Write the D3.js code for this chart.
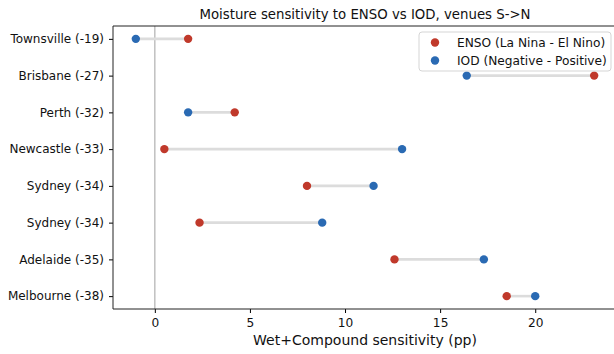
<!DOCTYPE html>
<html>
<head>
<meta charset="utf-8">
<script src="https://cdn.jsdelivr.net/npm/d3@7"></script>
<style>
  body { margin: 0; background: #fff; }
  svg { font-family: "DejaVu Sans", sans-serif; display: block; }
  svg text { font-family: "DejaVu Sans", sans-serif; }
</style>
</head>
<body>
<script>
// venues ordered S->N in the source, shown top to bottom as in the picture
const venues = ['Townsville (-19)', 'Brisbane (-27)', 'Perth (-32)', 'Newcastle (-33)',
                'Sydney (-34)', 'Sydney (-34)', 'Adelaide (-35)', 'Melbourne (-38)'];
const ensoVals = [1.75, 23.1, 4.2, 0.5, 8.0, 2.35, 12.6, 18.5];
const iodVals = [-1.0, 16.4, 1.75, 13.0, 11.5, 8.8, 17.3, 20.0];
const xTicks = [0, 5, 10, 15, 20];
const legendLabels = ['ENSO (La Nina - El Nino)', 'IOD (Negative - Positive)'];

const w = 614, h = 354;
const m = {left: 113, right: -3, top: 26, bottom: 45};
const red = '#c0392b', blue = '#2a6ab3';

const svg = d3.select('body').append('svg').attr('width', w).attr('height', h);

const x = d3.scaleLinear().domain([-2.2, 24.3]).range([m.left, w - m.right]);
const y = d3.scaleLinear().domain([-0.35, 7.35]).range([m.top, h - m.bottom]);

const rows = venues.map((v, i) => ({name: v, i: i, enso: ensoVals[i], iod: iodVals[i]}));

// zero line
svg.append('line')
  .attr('x1', x(0)).attr('x2', x(0))
  .attr('y1', m.top).attr('y2', h - m.bottom)
  .attr('stroke', '#b0b0b0').attr('stroke-width', 1.2);

// connectors
svg.selectAll('line.conn').data(rows).enter().append('line')
  .attr('class', 'conn')
  .attr('x1', d => x(d.enso)).attr('x2', d => x(d.iod))
  .attr('y1', d => y(d.i)).attr('y2', d => y(d.i))
  .attr('stroke', '#dcdcdc').attr('stroke-width', 2.6);

svg.selectAll('circle.enso').data(rows).enter().append('circle')
  .attr('class', 'enso')
  .attr('cx', d => x(d.enso)).attr('cy', d => y(d.i)).attr('r', 4.2)
  .attr('fill', red);

svg.selectAll('circle.iod').data(rows).enter().append('circle')
  .attr('class', 'iod')
  .attr('cx', d => x(d.iod)).attr('cy', d => y(d.i)).attr('r', 4.2)
  .attr('fill', blue);

// axes
const xAxis = d3.axisBottom(x).tickValues(xTicks).tickSize(4).tickPadding(5);
const gx = svg.append('g').attr('transform', 'translate(0,' + (h - m.bottom) + ')').call(xAxis);
gx.select('.domain').remove();
gx.selectAll('text').style('font-size', '12.2px').attr('fill', '#111');

const yAxis = d3.axisLeft(y).tickValues(d3.range(venues.length)).tickFormat(i => venues[i]).tickSize(4).tickPadding(5);
const gy = svg.append('g').attr('transform', 'translate(' + m.left + ',0)').call(yAxis);
gy.select('.domain').remove();
gy.selectAll('text').style('font-size', '12px').attr('fill', '#111');

// spines
svg.append('path')
  .attr('d', 'M' + (w + 5) + ',' + m.top + 'H' + m.left + 'V' + (h - m.bottom) + 'H' + (w + 5))
  .attr('fill', 'none').attr('stroke', '#222').attr('stroke-width', 1);

// title and label
svg.append('text').attr('x', (m.left + w - m.right) / 2).attr('y', 19)
  .attr('text-anchor', 'middle').style('font-size', '13.3px').attr('fill', '#111')
  .text('Moisture sensitivity to ENSO vs IOD, venues S->N');
svg.append('text').attr('x', (m.left + w - m.right) / 2).attr('y', 345)
  .attr('text-anchor', 'middle').style('font-size', '14px').attr('fill', '#111')
  .text('Wet+Compound sensitivity (pp)');

// legend
const lg = svg.append('g').attr('transform', 'translate(419,32)');
lg.append('rect').attr('width', 192).attr('height', 39).attr('rx', 3)
  .attr('fill', 'rgba(255,255,255,0.85)').attr('stroke', '#d5d5d5');
legendLabels.forEach((t, i) => {
  lg.append('circle').attr('cx', 16).attr('cy', 10.5 + i * 18).attr('r', 4.2)
    .attr('fill', i === 0 ? red : blue);
  lg.append('text').attr('x', 38).attr('y', 15 + i * 18)
    .style('font-size', '12.2px').attr('fill', '#111').text(t);
});
</script>
</body>
</html>
